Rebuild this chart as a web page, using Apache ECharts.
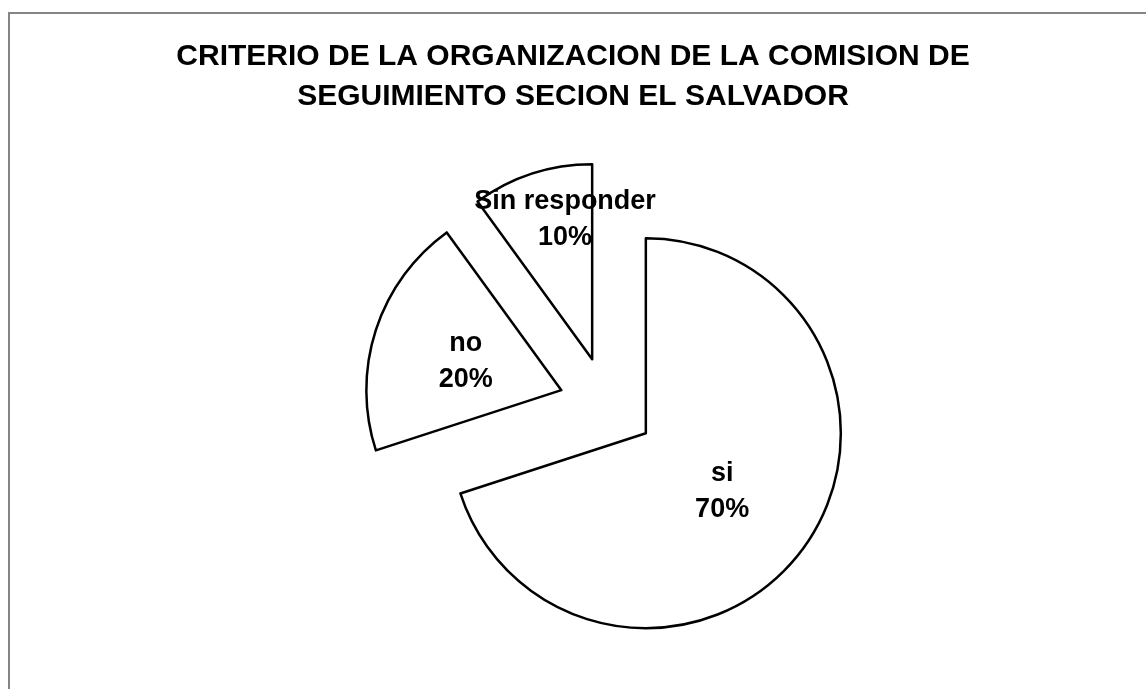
<!DOCTYPE html>
<html>
<head>
<meta charset="utf-8">
<script src="https://cdn.jsdelivr.net/npm/echarts@6/dist/echarts.min.js"></script>
<style>
  html, body { margin: 0; padding: 0; background: #fff; }
  #chart { width: 1146px; height: 689px; }
</style>
</head>
<body>
<div id="chart"></div>
<script>
const titleText = "CRITERIO DE LA ORGANIZACION DE LA COMISION DE\nSEGUIMIENTO SECION EL SALVADOR";
const categories = ["si", "no", "Sin responder"];
const values = [70, 20, 10];

const chart = echarts.init(document.getElementById("chart"));

const data = categories.map((name, i) => ({ name, value: values[i], selected: true }));

// small nudges so the labels sit where the original put them
const labelNudge = [{ dx: -5, dy: -1 }, { dx: 0, dy: 2 }, { dx: 4, dy: -44 }];

chart.setOption({
  animation: false,
  backgroundColor: "#fff",
  title: {
    text: titleText,
    left: "center",
    top: 32,
    textStyle: {
      fontFamily: "Arial, 'Liberation Sans', sans-serif",
      fontSize: 30,
      fontWeight: "bold",
      color: "#000",
      lineHeight: 40,
    },
  },
  graphic: [
    {
      type: "rect",
      shape: { x: 9, y: 13, width: 1160, height: 700 },
      style: { fill: "none", stroke: "#858585", lineWidth: 2 },
      silent: true,
    },
  ],
  series: [
    {
      type: "pie",
      center: [607, 405],
      radius: [0, 195],
      startAngle: 90,
      clockwise: true,
      selectedMode: "multiple",
      selectedOffset: 48,
      data,
      itemStyle: { color: "#fff", borderColor: "#000", borderWidth: 2.5 },
      label: {
        show: true,
        position: "inside",
        formatter: (p) => `${p.name}\n${p.percent.toFixed(0)}%`,
        fontFamily: "Arial, 'Liberation Sans', sans-serif",
        fontSize: 27,
        fontWeight: "bold",
        color: "#000",
        lineHeight: 36,
      },
      labelLine: { show: false },
      labelLayout: (params) => labelNudge[params.dataIndex],
      emphasis: { disabled: true },
      select: { disabled: false, itemStyle: { color: "#fff", borderColor: "#000", borderWidth: 2.5 } },
    },
  ],
});
</script>
</body>
</html>
